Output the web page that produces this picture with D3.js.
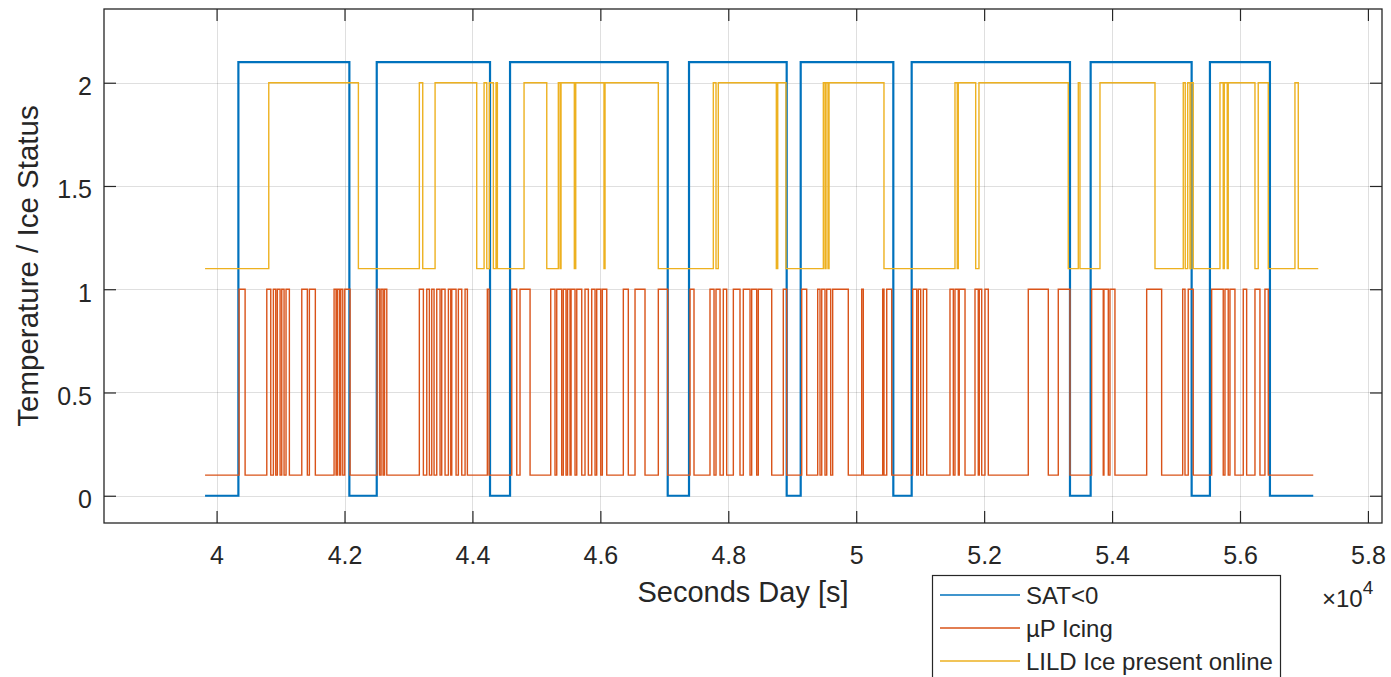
<!DOCTYPE html>
<html><head><meta charset="utf-8">
<script src="https://cdn.jsdelivr.net/npm/d3@7"></script>
<style>
body{margin:0;background:#fff}
svg{display:block}
text{font-family:"Liberation Sans",Arial,Helvetica,sans-serif;fill:#262626}
</style>
</head><body>
<svg id="chart" width="1391" height="677"></svg>
<script>
// ---------- data ----------
const xTicks = [40000, 42000, 44000, 46000, 48000, 50000, 52000, 54000, 56000, 58000];
const xTickLabels = ["4", "4.2", "4.4", "4.6", "4.8", "5", "5.2", "5.4", "5.6", "5.8"];
const yTicks = [0, 0.5, 1, 1.5, 2];
const yTickLabels = ["0", "0.5", "1", "1.5", "2"];
const seriesNames = ["SAT<0", "\u00b5P Icing", "LILD Ice present online"];
const seriesColors = ["#0072BD", "#D95319", "#EDB120"];

// SAT<0 : step series (time [s], value)
const satTimes  = [39820, 40341, 42076, 42504, 44275, 44588, 47053, 47386, 48913, 49132, 50580, 50867, 53342, 53665, 55244, 55530, 56468, 57145];
const satValues = [0, 2.1, 0, 2.1, 0, 2.1, 0, 2.1, 0, 2.1, 0, 2.1, 0, 2.1, 0, 2.1, 0, 0];

// uP Icing : low 0.1 / high 1, high intervals
const icingStart = 39820, icingEnd = 57145, icingLow = 0.1, icingHigh = 1;
const icingRise = [40352,40785,40888,40950,41019,41086,41332,41451,41837,41888,41942,42004,42509,42572,42626,
  43170,43286,43364,43442,43520,43624,43677,43780,43885,44233,44615,44744,45224,45318,45421,45487,45542,45631,
  45760,45865,45943,46031,46359,46542,46906,47402,47714,47808,47922,48079,48235,48366,48469,48860,49148,49398,
  49461,49539,49632,50086,50414,50477,50883,50971,51049,51466,51544,51611,51857,51924,52013,52690,53159,53681,
  53873,53967,54541,55104,55191,55557,55765,55843,56051,56234,56390];
const icingFall = [40446,40847,40925,40993,41055,41138,41419,41544,41868,41920,41973,42087,42548,42603,42661,
  43233,43327,43400,43494,43572,43661,43744,43833,43921,44260,44693,44901,45291,45396,45463,45526,45604,45709,
  45812,45917,46006,46100,46437,46698,47053,47464,47777,47871,47975,48183,48340,48444,48679,48913,49226,49434,
  49512,49601,49876,50111,50434,50555,50946,51008,51102,51518,51596,51701,51908,51962,52065,53003,53342,53862,
  53941,54045,54775,55140,55269,55738,55816,55921,56104,56312,56442];

// LILD Ice present online : low 1.1 / high 2, high intervals
const lildStart = 39820, lildEnd = 57223, lildLow = 1.1, lildHigh = 2;
const lildRise = [40816,43170,43416,44182,44264,44369,44807,45343,45385,45615,46073,47766,47844,48773,49486,
  49528,49575,51544,51596,51919,53472,53811,55113,55182,55233,55687,55754,55816,56285,56859];
const lildFall = [42217,43223,44067,44224,44327,44390,45162,45370,45593,46057,46906,47808,48751,48902,49512,
  49559,50434,51580,51868,53315,53498,54671,55144,55218,55269,55738,55801,56234,56442,56911];

// ---------- build step point lists ----------
function fromIntervals(start, end, low, high, rise, fall) {
  const pts = [[start, low]];
  rise.forEach((r, i) => { pts.push([r, high]); pts.push([fall[i], low]); });
  pts.push([end, low]);
  return pts;
}
const series = [
  satTimes.map((t, i) => [t, satValues[i]]),
  fromIntervals(icingStart, icingEnd, icingLow, icingHigh, icingRise, icingFall),
  fromIntervals(lildStart, lildEnd, lildLow, lildHigh, lildRise, lildFall)
];
const lineWidths = [2.2, 1.4, 1.4];

// ---------- layout ----------
const svg = d3.select("#chart");
const L = 104, R = 1382, T = 9, B = 523;
const x = d3.scaleLinear().domain([38240, 58220]).range([L, R]);
const y = d3.scaleLinear().domain([-0.132, 2.357]).range([B, T]);

svg.append("rect").attr("x", 0).attr("y", 0).attr("width", 1391).attr("height", 677).attr("fill", "#fff");

// grid
const grid = svg.append("g").attr("stroke", "#262626").attr("stroke-opacity", 0.15).attr("stroke-width", 1);
xTicks.forEach(t => grid.append("line").attr("x1", Math.round(x(t)) + 0.5).attr("x2", Math.round(x(t)) + 0.5).attr("y1", T).attr("y2", B));
yTicks.forEach(t => grid.append("line").attr("y1", Math.round(y(t)) + 0.5).attr("y2", Math.round(y(t)) + 0.5).attr("x1", L).attr("x2", R));

// series
svg.append("clipPath").attr("id", "clip").append("rect").attr("x", L).attr("y", T).attr("width", R - L).attr("height", B - T);
const line = d3.line().x(d => x(d[0])).y(d => y(d[1])).curve(d3.curveStepAfter);
const gLines = svg.append("g").attr("clip-path", "url(#clip)");
series.forEach((s, i) => {
  gLines.append("path").attr("d", line(s)).attr("fill", "none")
    .attr("stroke", seriesColors[i]).attr("stroke-width", lineWidths[i]).attr("stroke-linejoin", "miter");
});

// axes
const fmtX = (d) => xTickLabels[xTicks.indexOf(d)];
const fmtY = (d) => yTickLabels[yTicks.indexOf(d)];
const axB = svg.append("g").attr("transform", `translate(0,${B})`)
  .call(d3.axisBottom(x).tickValues(xTicks).tickFormat(fmtX).tickSizeInner(-12).tickSizeOuter(0).tickPadding(23));
const axT = svg.append("g").attr("transform", `translate(0,${T})`)
  .call(d3.axisTop(x).tickValues(xTicks).tickFormat("").tickSizeInner(-12).tickSizeOuter(0));
const axL = svg.append("g").attr("transform", `translate(${L},0)`)
  .call(d3.axisLeft(y).tickValues(yTicks).tickFormat(fmtY).tickSizeInner(-12).tickSizeOuter(0).tickPadding(12));
const axR = svg.append("g").attr("transform", `translate(${R},0)`)
  .call(d3.axisRight(y).tickValues(yTicks).tickFormat("").tickSizeInner(-12).tickSizeOuter(0));
[axB, axT, axL, axR].forEach(a => {
  a.select(".domain").remove();
  a.selectAll("line").attr("stroke", "#262626").attr("stroke-width", 1.2);
  a.selectAll("text").attr("font-size", 25).attr("fill", "#262626")
    .style("font-family", '"Liberation Sans",Arial,sans-serif');
});
axL.selectAll("text").attr("dy", "0.48em");

svg.append("rect").attr("x", L).attr("y", T).attr("width", R - L).attr("height", B - T)
  .attr("fill", "none").attr("stroke", "#262626").attr("stroke-width", 1.3);

// labels
svg.append("text").attr("x", (L + R) / 2).attr("y", 602).attr("text-anchor", "middle")
  .attr("font-size", 29).text("Seconds Day [s]");
svg.append("text").attr("transform", `translate(38,${(T + B) / 2}) rotate(-90)`).attr("text-anchor", "middle")
  .attr("font-size", 29.5).text("Temperature / Ice Status");

// exponent
const ex = svg.append("text").attr("x", 1322).attr("y", 607).attr("font-size", 24);
ex.append("tspan").text("\u00d710");
ex.append("tspan").attr("dy", -13).attr("font-size", 19).text("4");

// legend
const lg = svg.append("g");
lg.append("rect").attr("x", 932.5).attr("y", 575.5).attr("width", 348).attr("height", 130)
  .attr("fill", "#fff").attr("stroke", "#262626").attr("stroke-width", 1.2);
const legY = [595, 628, 661];
seriesNames.forEach((n, i) => {
  lg.append("line").attr("x1", 940).attr("x2", 1020).attr("y1", legY[i]).attr("y2", legY[i])
    .attr("stroke", seriesColors[i]).attr("stroke-width", 1.5);
  lg.append("text").attr("x", 1026).attr("y", legY[i]).attr("dy", "0.36em").attr("font-size", 24).text(n);
});
</script>
</body></html>
